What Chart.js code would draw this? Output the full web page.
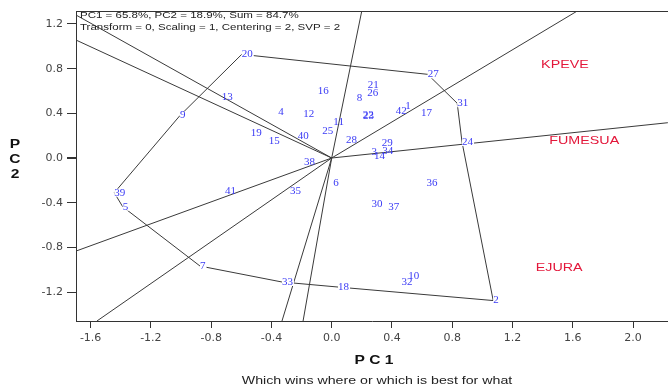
<!DOCTYPE html>
<html>
<head>
<meta charset="utf-8">
<script src="https://cdn.jsdelivr.net/npm/chart.js@4.4.0/dist/chart.umd.min.js"></script>
<style>
  html, body { margin: 0; padding: 0; background: #fff; }
  #wrap { width: 668px; height: 388px; }
</style>
</head>
<body>
<div id="wrap"><canvas id="biplot" width="668" height="388"></canvas></div>
<script>
'use strict';

// genotype scores (PC1, PC2)
const genotypes = ['1','2','3','4','5','6','7','8','9','10','11','12','13','14','15','16','17','18','19','20','21',
  '22','23','24','25','26','27','28','29','30','31','32','33','34','35','36','37','38','39','40','41','42'];
const pc1 = [0.488, 1.072, 0.264, -0.355, -1.387, 0.010, -0.874, 0.167, -1.007, 0.508, 0.011, -0.188, -0.730, 0.281,
  -0.418, -0.093, 0.593, 0.042, -0.537, -0.597, 0.239, 0.206, 0.208, 0.865, -0.062, 0.236, 0.637, 0.095, 0.332,
  0.265, 0.833, 0.464, -0.330, 0.336, -0.277, 0.630, 0.376, -0.184, -1.443, -0.226, -0.708, 0.425];
const pc2 = [0.466, -1.276, 0.056, 0.412, -0.436, -0.227, -0.967, 0.533, 0.380, -1.056, 0.320, 0.394, 0.549, 0.018,
  0.152, 0.603, 0.406, -1.155, 0.221, 0.928, 0.654, 0.385, 0.372, 0.143, 0.239, 0.579, 0.749, 0.161, 0.132,
  -0.412, 0.490, -1.113, -1.110, 0.065, -0.293, -0.227, -0.441, -0.038, -0.311, 0.200, -0.293, 0.423];

// polygon of vertex genotypes
const hullOrder = ['20','27','31','24','2','18','33','7','5','39','9','20'];

// rays from the origin (end points)
const rayEndPC1 = [0.201, 1.641, 2.231, -0.330, -0.190, -1.558, -1.697, -1.697, -1.697];
const rayEndPC2 = [1.325, 1.325, 0.316, -1.459, -1.459, -1.459, -0.833, 1.280, 1.056];

// environments
const environments = ['KPEVE','FUMESUA','EJURA'];
const envPC1 = [1.548, 1.676, 1.510];
const envPC2 = [0.833, 0.155, -0.982];

const xTicks = [-1.6, -1.2, -0.8, -0.4, 0.0, 0.4, 0.8, 1.2, 1.6, 2.0];
const yTicks = [-1.2, -0.8, -0.4, 0.0, 0.4, 0.8, 1.2];

const headerLines = ['PC1 = 65.8%, PC2 = 18.9%, Sum = 84.7%', 'Transform = 0, Scaling = 1, Centering = 2, SVP = 2'];
const subtitle = 'Which wins where or which is best for what';

const lineColor = '#3a3a3a';
const pts = genotypes.map((g, i) => ({x: pc1[i], y: pc2[i]}));
const lookup = name => pts[genotypes.indexOf(name)];

const rayDatasets = rayEndPC1.map((x, i) => ({
  data: [{x: 0, y: 0}, {x: x, y: rayEndPC2[i]}],
  showLine: true, borderColor: lineColor, borderWidth: 1, pointRadius: 0
}));

// text drawn a bit wider than the font, like the original export
function wideText(ctx, text, x, y, font, color, sx, align) {
  ctx.save();
  ctx.font = font;
  ctx.fillStyle = color;
  ctx.textAlign = align || 'center';
  ctx.textBaseline = 'middle';
  ctx.translate(x, y);
  ctx.scale(sx, 1);
  ctx.fillText(text, 0, 0);
  ctx.restore();
}

const labelPlugin = {
  id: 'labels',
  afterDatasetsDraw(chart) {
    const ctx = chart.ctx;
    const area = chart.chartArea;
    // top frame line
    ctx.save();
    ctx.strokeStyle = '#333';
    ctx.lineWidth = 1;
    ctx.beginPath();
    ctx.moveTo(area.left, area.top + 0.5);
    ctx.lineTo(area.right, area.top + 0.5);
    ctx.stroke();
    ctx.restore();

    // genotype labels
    const gMeta = chart.getDatasetMeta(chart.data.datasets.length - 2);
    ctx.save();
    ctx.font = '11px "Liberation Serif", serif';
    ctx.textAlign = 'left';
    ctx.textBaseline = 'middle';
    gMeta.data.forEach((el, i) => {
      const name = genotypes[i];
      const w = ctx.measureText(name).width;
      if (hullOrder.includes(name)) {
        ctx.fillStyle = '#fff';
        ctx.fillRect(el.x, el.y - 4, w + 1, 8);
      }
      ctx.fillStyle = '#3a3af5';
      ctx.fillText(name, el.x, el.y);
    });
    ctx.restore();

    // environment labels
    const eMeta = chart.getDatasetMeta(chart.data.datasets.length - 1);
    eMeta.data.forEach((el, i) => {
      wideText(ctx, environments[i], el.x, el.y, '11px "Liberation Sans", Arial', '#e3173a', 1.3);
    });

    // header inside the plot
    headerLines.forEach((t, i) => {
      wideText(ctx, t, 80, 16 + i * 12, '9px "Liberation Sans", Arial', '#222', 1.28, 'left');
    });

    // axis titles
    wideText(ctx, 'P C 1', 374, 361, 'bold 12px "Liberation Sans", Arial', '#111', 1.3);
    ['P', 'C', '2'].forEach((c, i) => {
      wideText(ctx, c, 15, 145 + i * 15, 'bold 12px "Liberation Sans", Arial', '#111', 1.3);
    });
    wideText(ctx, subtitle, 377, 381, '11px "Liberation Sans", Arial', '#222', 1.29);
  }
};

new Chart(document.getElementById('biplot'), {
  type: 'scatter',
  data: {
    datasets: [
      ...rayDatasets,
      {
        data: hullOrder.map(lookup),
        showLine: true, borderColor: lineColor, borderWidth: 1, pointRadius: 0
      },
      { data: pts, pointRadius: 0 },
      { data: envPC1.map((x, i) => ({x: x, y: envPC2[i]})), pointRadius: 0 }
    ]
  },
  options: {
    responsive: false,
    devicePixelRatio: 1,
    animation: false,
    events: [],
    layout: { padding: { top: 11, left: 0, right: 0, bottom: 0 } },
    plugins: {
      legend: { display: false },
      tooltip: { enabled: false }
    },
    scales: {
      x: {
        type: 'linear',
        min: -1.697,
        max: 2.232,
        afterBuildTicks: s => { s.ticks = xTicks.map(v => ({value: v})); },
        afterFit: s => { s.height = 67; },
        grid: { drawOnChartArea: false, drawTicks: true, tickLength: 7, color: '#333' },
        border: { display: true, color: '#333', width: 1 },
        ticks: {
          font: { family: 'DejaVu Sans', size: 11 },
          color: '#444',
          padding: 4,
          maxRotation: 0,
          autoSkip: false,
          callback: v => v.toFixed(1)
        }
      },
      y: {
        type: 'linear',
        min: -1.459,
        max: 1.316,
        afterBuildTicks: s => { s.ticks = yTicks.map(v => ({value: v})); },
        afterFit: s => { s.width = 76; },
        grid: {
          drawOnChartArea: false, drawTicks: true, tickLength: 9, color: '#333',
          lineWidth: c => (c.tick && c.tick.value === 0 ? 2 : 1)
        },
        border: { display: true, color: '#333', width: 1 },
        ticks: {
          font: { family: 'DejaVu Sans', size: 11 },
          color: '#444',
          padding: 4,
          autoSkip: false,
          callback: v => v.toFixed(1)
        }
      }
    }
  },
  plugins: [labelPlugin]
});
</script>
</body>
</html>
